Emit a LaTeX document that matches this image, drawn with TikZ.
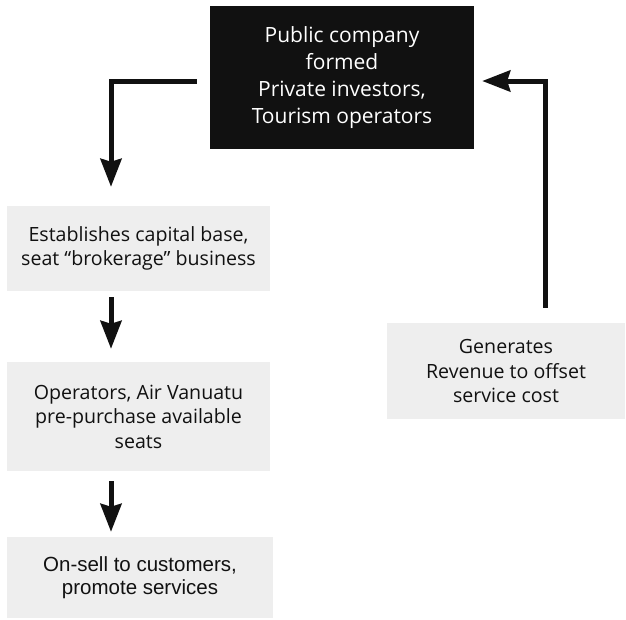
\documentclass[tikz,border=0pt]{standalone}
\usepackage{fontspec}
\newfontfamily\osans{Open Sans}
\newfontfamily\lsans{Liberation Sans}
\usetikzlibrary{arrows.meta}
\definecolor{boxgray}{RGB}{238,238,238}
\definecolor{ink}{RGB}{17,17,17}
\begin{document}
\begin{tikzpicture}[x=1pt,y=-1pt,
  darkbox/.style={fill=ink,text=white,inner sep=0pt,align=center,
    font=\osans\fontsize{21}{27}\selectfont},
  graybox/.style={fill=boxgray,text=ink,inner sep=0pt,align=center,
    font=\osans\fontsize{19.6}{24.5}\selectfont},
  arialbox/.style={fill=boxgray,text=ink,inner sep=0pt,align=center,
    font=\lsans\fontsize{20.5}{23}\selectfont},
  conn/.style={draw=ink,line width=5pt,line join=miter,
    -{Stealth[length=28pt,width=21pt,inset=3pt]}}]
\useasboundingbox (0,0) rectangle (626,619);
\node[darkbox,minimum width=264pt,minimum height=143pt] (top) at (342,77.5)
  {Public company\\formed\\Private investors,\\Tourism operators};
\node[graybox,minimum width=263pt,minimum height=85pt] (b1) at (138.5,248.5)
  {Establishes capital base,\\seat “brokerage” business};
\node[graybox,minimum width=263pt,minimum height=109pt] (b2) at (138.5,416.5)
  {Operators, Air Vanuatu\\pre-purchase available\\seats};
\node[arialbox,minimum width=266pt,minimum height=81pt] (b3) at (140,577.5)
  {On-sell to customers,\\ promote services};
\node[graybox,minimum width=238pt,minimum height=96pt] (rb) at (506,371)
  {Generates\\Revenue to offset\\service cost};
\draw[conn,shorten <=13pt,shorten >=19pt] (top.west |- 0,81) -| (b1.north -| 111,0);
\draw[conn,shorten <=6pt,shorten >=13pt] (b1.south -| 111,0) -- (b2.north -| 111,0);
\draw[conn,shorten <=10pt,shorten >=5pt] (b2.south -| 111,0) -- (b3.north -| 111,0);
\draw[conn,shorten <=15pt,shorten >=8pt] (rb.north -| 545,0) |- (top.east |- 0,81);
\end{tikzpicture}
\end{document}
